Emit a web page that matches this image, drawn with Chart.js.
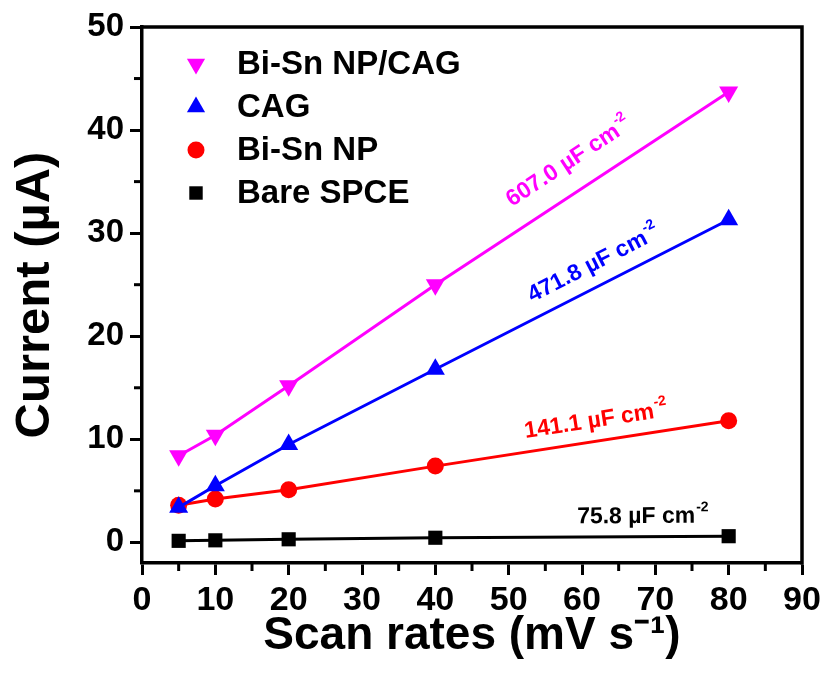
<!DOCTYPE html>
<html><head><meta charset="utf-8">
<script src="https://cdn.jsdelivr.net/npm/chart.js@4.4.1/dist/chart.umd.min.js"></script>
<style>html,body{margin:0;padding:0;background:#fff;} #wrap{width:828px;height:678px;}</style>
</head><body><div id="wrap"><canvas id="c" width="828" height="678"></canvas></div>
<script>
// ---- data ----
const scanRates = [5, 10, 20, 40, 80];
const biSnNpCag = [8.4, 10.4, 15.2, 25.0, 43.7];
const cag = [3.4, 5.5, 9.5, 16.8, 31.3];
const biSnNp = [3.6, 4.2, 5.1, 7.4, 11.8];
const bareSpce = [0.15, 0.2, 0.3, 0.45, 0.6];
const seriesNames = ['Bi-Sn NP/CAG', 'CAG', 'Bi-Sn NP', 'Bare SPCE'];
const capacitances = ['607.0', '471.8', '141.1', '75.8'];
const xTicks = [0, 10, 20, 30, 40, 50, 60, 70, 80, 90];
const xMinorTicks = [5, 15, 25, 35, 45, 55, 65, 75, 85];
const yTicks = [0, 10, 20, 30, 40, 50];
const yMinorTicks = [5, 15, 25, 35, 45];

// ---- styles ----
const FONT = '"Liberation Sans", Arial, sans-serif';
const colors = ['#ff00ff', '#0000ff', '#ff0000', '#000000'];
const pointStyles = ['triangle', 'triangle', 'circle', 'rect'];
const rotations = [180, 0, 0, 0];
const radii = [11, 11, 8.5, 10];
const legendRadii = [10.5, 10.5, 8.5, 9.5];
// label anchors in data units (x, y) for the capacitance annotations
const labelAnchors = [[58.2, 36.9], [61.6, 27.0], [61.9, 11.8], [68.3, 2.5]];

const seriesValues = [biSnNpCag, cag, biSnNp, bareSpce];

const datasets = seriesValues.map((vals, i) => ({
  label: seriesNames[i],
  data: scanRates.map((x, j) => ({ x: x, y: vals[j] })),
  borderColor: colors[i],
  backgroundColor: colors[i],
  pointBackgroundColor: colors[i],
  pointBorderColor: colors[i],
  pointBorderWidth: 0,
  pointStyle: pointStyles[i],
  pointRotation: rotations[i],
  pointRadius: radii[i],
  borderWidth: 3,
  showLine: true,
  tension: 0
}));

const extras = {
  id: 'extras',
  afterDraw(chart) {
    const ctx = chart.ctx;
    const xs = chart.scales.x, ys = chart.scales.y;
    const a = chart.chartArea;
    ctx.save();
    ctx.strokeStyle = '#000';
    // frame (top & right)
    ctx.lineWidth = 3.5;
    ctx.beginPath();
    ctx.moveTo(a.left - 1.5, a.top);
    ctx.lineTo(a.right, a.top);
    ctx.lineTo(a.right, a.bottom + 1.5);
    ctx.stroke();
    // minor ticks
    ctx.lineWidth = 3;
    xMinorTicks.forEach(v => {
      const px = xs.getPixelForValue(v);
      ctx.beginPath(); ctx.moveTo(px, a.bottom); ctx.lineTo(px, a.bottom + 8); ctx.stroke();
    });
    yMinorTicks.forEach(v => {
      const py = ys.getPixelForValue(v);
      ctx.beginPath(); ctx.moveTo(a.left, py); ctx.lineTo(a.left - 8, py); ctx.stroke();
    });
    // legend
    const legendTop = 64, legendStep = 43, markerX = 196, textX = 237;
    ctx.textBaseline = 'middle';
    ctx.textAlign = 'left';
    ctx.font = 'bold 33px ' + FONT;
    seriesNames.forEach((name, i) => {
      const y = legendTop + i * legendStep;
      ctx.fillStyle = colors[i];
      Chart.helpers.drawPoint(ctx, { pointStyle: pointStyles[i], rotation: rotations[i], radius: legendRadii[i], borderWidth: 0 }, markerX, y);
      ctx.fillStyle = '#000';
      ctx.fillText(name, textX, y + 1);
    });
    // capacitance labels
    seriesValues.forEach((vals, i) => {
      const n = vals.length;
      const x1 = xs.getPixelForValue(scanRates[n - 2]), y1 = ys.getPixelForValue(vals[n - 2]);
      const x2 = xs.getPixelForValue(scanRates[n - 1]), y2 = ys.getPixelForValue(vals[n - 1]);
      const ang = Math.atan2(y2 - y1, x2 - x1);
      const cx = xs.getPixelForValue(labelAnchors[i][0]);
      const cy = ys.getPixelForValue(labelAnchors[i][1]);
      const main = capacitances[i] + ' \u00b5F cm';
      const sup = '-2';
      ctx.font = 'bold 23px ' + FONT;
      const w1 = ctx.measureText(main).width;
      ctx.font = 'bold 14px ' + FONT;
      const w2 = ctx.measureText(sup).width;
      const w = w1 + w2 + 1;
      ctx.save();
      ctx.translate(cx, cy);
      ctx.rotate(ang);
      ctx.fillStyle = colors[i];
      ctx.textBaseline = 'middle';
      ctx.font = 'bold 23px ' + FONT;
      ctx.fillText(main, -w / 2, 0);
      ctx.font = 'bold 14px ' + FONT;
      ctx.fillText(sup, -w / 2 + w1 + 1, -9);
      ctx.restore();
    });
    ctx.restore();
  }
};

new Chart(document.getElementById('c'), {
  type: 'scatter',
  data: { datasets: datasets },
  options: {
    responsive: false,
    animation: false,
    devicePixelRatio: 1,
    layout: { padding: { left: 0, right: 26, top: 27, bottom: 0 } },
    plugins: { legend: { display: false }, tooltip: { enabled: false } },
    scales: {
      x: {
        type: 'linear', min: 0, max: 90,
        afterBuildTicks: s => { s.ticks = xTicks.map(v => ({ value: v })); },
        afterFit: s => { s.height = 115; },
        ticks: { color: '#000', font: { family: FONT, size: 34, weight: 'bold' }, padding: 5, maxRotation: 0 },
        grid: { display: true, drawOnChartArea: false, drawTicks: true, tickLength: 12, tickWidth: 3, tickColor: '#000' },
        border: { display: true, color: '#000', width: 3.5 },
        title: { display: true, text: 'Scan rates (mV s\u207B\u00B9)', color: '#000', font: { family: FONT, size: 46, weight: 'bold' }, padding: { top: 0, bottom: 14 } }
      },
      y: {
        type: 'linear', min: -2, max: 50,
        afterBuildTicks: s => { s.ticks = yTicks.map(v => ({ value: v })); },
        afterFit: s => { s.width = 142; },
        ticks: { color: '#000', font: { family: FONT, size: 33, weight: 'bold' }, padding: 6 },
        grid: { display: true, drawOnChartArea: false, drawTicks: true, tickLength: 12, tickWidth: 3, tickColor: '#000' },
        border: { display: true, color: '#000', width: 3.5 },
        title: { display: true, text: 'Current (\u00b5A)', color: '#000', font: { family: FONT, size: 49, weight: 'bold' }, padding: { top: 6, bottom: 0 } }
      }
    }
  },
  plugins: [extras]
});
</script>
</body></html>
